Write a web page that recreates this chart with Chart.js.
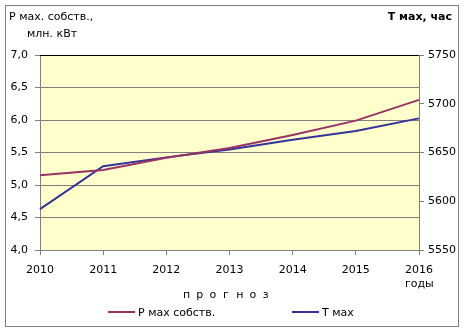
<!DOCTYPE html>
<html>
<head>
<meta charset="utf-8">
<script src="https://cdn.jsdelivr.net/npm/chart.js@4/dist/chart.umd.min.js"></script>
<style>
  html, body { margin: 0; padding: 0; background: #fff; }
  #wrap { width: 466px; height: 330px; }
</style>
</head>
<body>
<div id="wrap"><canvas id="myChart" width="466" height="330"></canvas></div>
<script>
// data
var years = ['2010', '2011', '2012', '2013', '2014', '2015', '2016'];
var pMax = [5.15, 5.23, 5.42, 5.57, 5.77, 5.99, 6.31];
var tMax = [5592, 5636, 5645, 5653, 5663, 5672, 5685];
var pLabel = 'Р мах собств.';
var tLabel = 'Т мах';

var FONT = '"DejaVu Sans", sans-serif';

// frame, plot background, extra texts and legend
var decor = {
    id: 'decor',
    beforeDraw: function (chart) {
        var ctx = chart.ctx;
        var a = chart.chartArea;
        ctx.save();
        ctx.fillStyle = '#fff';
        ctx.fillRect(0, 0, chart.width, chart.height);
        ctx.strokeStyle = '#808080';
        ctx.lineWidth = 1;
        ctx.strokeRect(5.5, 5.5, 453, 321);
        ctx.fillStyle = '#ffffcc';
        ctx.fillRect(a.left, a.top, a.right - a.left, a.bottom - a.top);
        ctx.restore();
    },
    afterDraw: function (chart) {
        var ctx = chart.ctx;
        var a = chart.chartArea;
        ctx.save();
        // top edge of plot is dark
        ctx.strokeStyle = '#000';
        ctx.lineWidth = 1;
        ctx.beginPath();
        ctx.moveTo(a.left, a.top + 0.5);
        ctx.lineTo(a.right, a.top + 0.5);
        ctx.stroke();

        ctx.fillStyle = '#000';
        ctx.textBaseline = 'middle';
        ctx.font = '11px ' + FONT;
        ctx.textAlign = 'left';
        ctx.fillText('Р мах. собств.,', 9, 17);
        ctx.fillText('млн. кВт', 27, 34);
        ctx.fillText('годы', 405, 284);
        // spaced-out caption
        'прогноз'.split('').forEach(function (ch, i) {
            ctx.fillText(ch, 183 + i * 13.3, 295);
        });
        ctx.font = 'bold 11px ' + FONT;
        ctx.textAlign = 'right';
        ctx.fillText('Т мах, час', 452, 17);

        // legend
        ctx.font = '11px ' + FONT;
        ctx.textAlign = 'left';
        var spots = [108, 292];
        chart.data.datasets.forEach(function (ds, i) {
            var x = spots[i];
            ctx.strokeStyle = ds.borderColor;
            ctx.lineWidth = 2;
            ctx.beginPath();
            ctx.moveTo(x, 312);
            ctx.lineTo(x + 27, 312);
            ctx.stroke();
            ctx.fillText(ds.label, x + 30, 313);
        });
        ctx.restore();
    }
};

var myChart = document.getElementById('myChart').getContext('2d');
var chart = new Chart(myChart, {
    type: 'line',
    data: {
        labels: years,
        datasets: [
            {
                label: pLabel,
                data: pMax,
                yAxisID: 'yP',
                borderColor: '#993366',
                borderWidth: 2,
                pointRadius: 0,
                tension: 0
            },
            {
                label: tLabel,
                data: tMax,
                yAxisID: 'yT',
                borderColor: '#333399',
                borderWidth: 2,
                pointRadius: 0,
                tension: 0
            }
        ]
    },
    options: {
        responsive: false,
        animation: false,
        layout: { padding: { top: 55, left: 0, right: 0, bottom: 0 } },
        plugins: {
            legend: { display: false },
            tooltip: { enabled: false }
        },
        scales: {
            x: {
                offset: false,
                afterFit: function (s) { s.height = 80; },
                grid: {
                    drawOnChartArea: false,
                    drawTicks: true,
                    tickLength: 5,
                    color: '#808080'
                },
                border: { color: '#808080' },
                ticks: {
                    color: '#000',
                    font: { family: FONT, size: 11 },
                    padding: 9,
                    maxRotation: 0,
                    autoSkip: false
                }
            },
            yP: {
                position: 'left',
                min: 4,
                max: 7,
                afterFit: function (s) { s.width = 40; },
                grid: {
                    color: '#808080',
                    tickLength: 5
                },
                border: { color: '#808080' },
                ticks: {
                    stepSize: 0.5,
                    color: '#000',
                    padding: 7,
                    font: { family: FONT, size: 11 },
                    callback: function (v) { return v.toFixed(1).replace('.', ','); }
                }
            },
            yT: {
                position: 'right',
                min: 5550,
                max: 5750,
                afterFit: function (s) { s.width = 47; },
                grid: {
                    drawOnChartArea: false,
                    color: '#808080',
                    tickLength: 5
                },
                border: { color: '#808080' },
                ticks: {
                    stepSize: 50,
                    color: '#000',
                    padding: 4,
                    font: { family: FONT, size: 11 },
                    callback: function (v) { return String(v); }
                }
            }
        }
    },
    plugins: [decor]
});
</script>
</body>
</html>
